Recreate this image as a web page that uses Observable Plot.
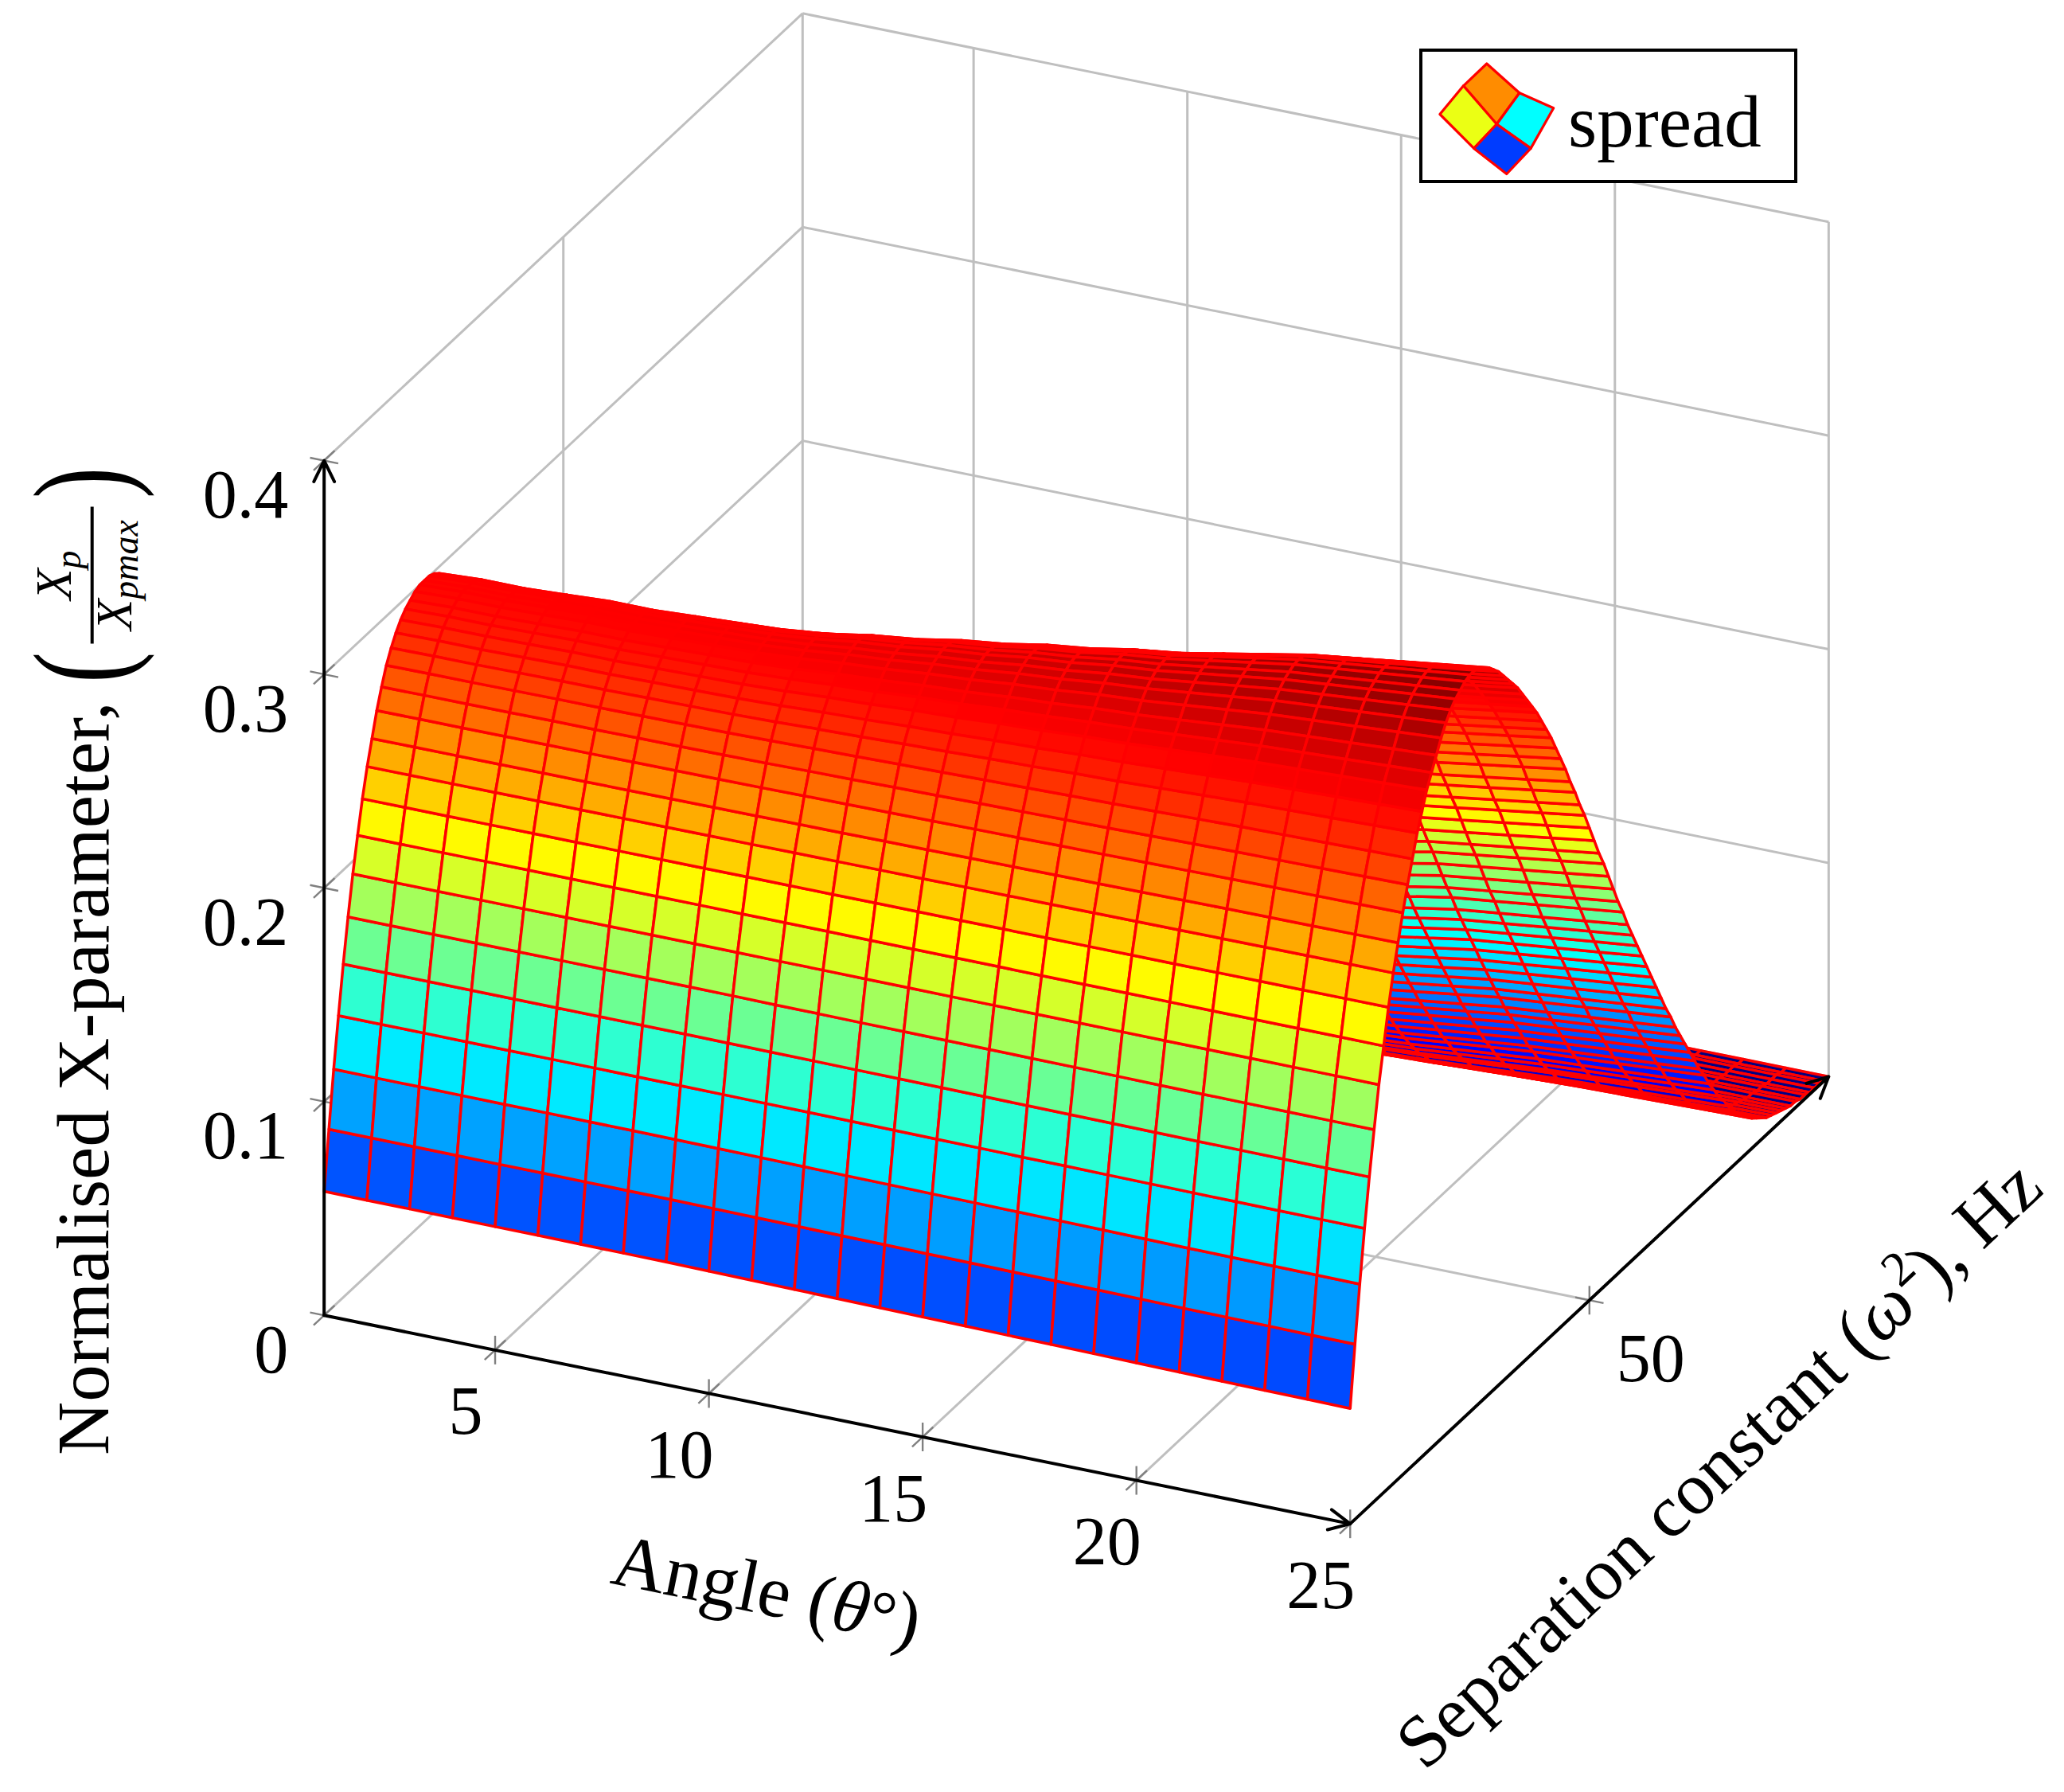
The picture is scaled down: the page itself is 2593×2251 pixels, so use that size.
<!DOCTYPE html>
<html>
<head>
<meta charset="utf-8">
<script src="https://cdn.jsdelivr.net/npm/d3@7"></script>
<script src="https://cdn.jsdelivr.net/npm/@observablehq/plot@0.6"></script>
<style>
  html, body { margin: 0; padding: 0; background: #fff; overflow: hidden; }
  #wrap { position: relative; width: 2593px; height: 2251px; }
  #legend { position: absolute; left: 1783px; top: 61px; width: 475px; height: 169px; box-sizing: border-box; border: 4px solid #000; background: #fff; }
  #legend svg { position: absolute; left: -4px; top: -4px; overflow: visible; }
</style>
</head>
<body>
<div id="wrap"></div>
<script>
// ---------------- data ----------------
const angles = [1,2,3,4,5,6,7,8,9,10,11,12,13,14,15,16,17,18,19,20,21,22,23,24,25];
const omega2 = [0,1,2,3,4,5,6,7,8,9,10,11,12,13,14,15,16,17,18,19,20,21,22,23,24,25,26,27,28,29,30,
  31,32,33,34,35,36,37,38,39,40,41,42,43,44,45,46,47,48,49,50,51,52,53,54,55,56,57,58,59,60,
  61,62,63,64,65,66,67,68,69,70,71,72,73,74,75,76,77,78,79,80,81,82,83,84,85,86,87,88,89,90,
  91,92,93,94,95,96,97,98,99,100];
// height of the ridge top for each angle
const ridgePeak = [0.300,0.301,0.301,0.302,0.303,0.303,0.304,0.305,0.306,0.308,0.311,0.313,0.316,
  0.318,0.321,0.323,0.326,0.328,0.331,0.334,0.337,0.339,0.341,0.343,0.345];
// profile along the separation constant at the smallest angle (theta = 1)
const spreadAtAngle1 = [
  0.058,0.085,0.111,0.134,0.156,0.176,0.194,0.210,0.225,0.238,
  0.249,0.260,0.269,0.277,0.283,0.288,0.292,0.295,0.297,0.299,
  0.300,0.300,0.300,0.299,0.297,0.294,0.291,0.287,0.284,0.280,
  0.277,0.272,0.268,0.264,0.259,0.254,0.249,0.244,0.238,0.231,
  0.225,0.218,0.212,0.205,0.199,0.192,0.185,0.178,0.172,0.165,
  0.158,0.151,0.145,0.138,0.132,0.126,0.120,0.114,0.108,0.102,
  0.096,0.090,0.084,0.078,0.073,0.068,0.063,0.057,0.052,0.048,
  0.043,0.038,0.034,0.030,0.026,0.023,0.020,0.017,0.015,0.012,
  0.010,0.009,0.007,0.006,0.005,0.004,0.003,0.003,0.002,0.002,
  0.002,0.001,0.001,0.001,0.001,0.000,0.000,0.000,0.000,0.000,0.000];
// profile along the separation constant at the largest angle (theta = 25)
const spreadAtAngle25 = [
  0.054,0.082,0.108,0.132,0.154,0.174,0.193,0.209,0.225,0.239,
  0.251,0.263,0.274,0.284,0.294,0.302,0.310,0.316,0.322,0.328,
  0.333,0.337,0.340,0.342,0.344,0.345,0.345,0.344,0.342,0.340,
  0.337,0.334,0.330,0.326,0.322,0.318,0.313,0.308,0.303,0.298,
  0.292,0.286,0.280,0.273,0.266,0.259,0.251,0.244,0.236,0.229,
  0.221,0.213,0.205,0.198,0.190,0.182,0.174,0.167,0.159,0.152,
  0.145,0.138,0.131,0.124,0.117,0.110,0.103,0.097,0.090,0.084,
  0.078,0.072,0.066,0.060,0.055,0.049,0.044,0.039,0.035,0.030,
  0.026,0.023,0.020,0.017,0.014,0.012,0.010,0.008,0.007,0.006,
  0.005,0.004,0.003,0.003,0.002,0.002,0.001,0.001,0.001,0.000,0.000];
const angleTicks = [5, 10, 15, 20, 25];
const omegaTicks = [50];
const omegaGrid = [50, 100];
const zTicks = [0, 0.1, 0.2, 0.3, 0.4];
const zTickLabels = ["0", "0.1", "0.2", "0.3", "0.4"];
const legendLabel = "spread";

// ---------------- 3D view (pgfplots default view {25}{30}) ----------------
const FONT = '"Liberation Serif", "Times New Roman", serif';
const AZ = 25 * Math.PI / 180, EL = 30 * Math.PI / 180;
const xLim = [1, 25], yLim = [0, 100], zLim = [0, 0.4];
const nrm = (t, w, z) => [(t - xLim[0]) / (xLim[1] - xLim[0]), (w - yLim[0]) / (yLim[1] - yLim[0]), (z - zLim[0]) / (zLim[1] - zLim[0])];
const proj = (t, w, z) => {
  const [a, b, c] = nrm(t, w, z);
  return {u: Math.cos(AZ) * a + Math.sin(AZ) * b,
          v: -Math.sin(AZ) * Math.sin(EL) * a + Math.cos(AZ) * Math.sin(EL) * b + Math.cos(EL) * c};
};
const depth = (t, w, z) => {
  const [a, b, c] = nrm(t, w, z);
  return Math.sin(AZ) * Math.cos(EL) * a - Math.cos(AZ) * Math.cos(EL) * b + Math.sin(EL) * c;
};
const seg = (A, B) => { const p = proj(...A), q = proj(...B); return {x1: p.u, y1: p.v, x2: q.u, y2: q.v}; };

// ---------------- surface ----------------
const p0 = ridgePeak[0], p1 = ridgePeak[ridgePeak.length - 1];
const Z = angles.map((t, i) => {
  const f = (ridgePeak[i] - p0) / (p1 - p0);
  return omega2.map((w, j) => spreadAtAngle1[j] + f * (spreadAtAngle25[j] - spreadAtAngle1[j]));
});
const quads = [];
for (let i = 0; i < angles.length - 1; i++) {
  for (let j = 0; j < omega2.length - 1; j++) {
    const cs = [[i, j], [i + 1, j], [i + 1, j + 1], [i, j + 1]];
    const meta = d3.mean(cs, ([a, b]) => Z[a][b]);
    const d = depth((angles[i] + angles[i + 1]) / 2, (omega2[j] + omega2[j + 1]) / 2, meta);
    quads.push({cs, meta, d});
  }
}
quads.sort((a, b) => a.d - b.d);
const surfRows = [];
quads.forEach((q, k) => q.cs.forEach(([a, b]) => {
  const p = proj(angles[a], omega2[b], Z[a][b]);
  surfRows.push({k, u: p.u, v: p.v, meta: q.meta});
}));
const zAll = Z.flat();
const zmin = d3.min(zAll), zmax = d3.max(zAll);
const jetStops = [0, 1 / 8, 3 / 8, 5 / 8, 7 / 8, 1];
const jetColors = ["#000080", "#0000ff", "#00ffff", "#ffff00", "#ff0000", "#800000"];

// ---------------- grid, ticks, axes ----------------
const gridSegs = [];
zTicks.forEach(z => gridSegs.push(seg([xLim[0], yLim[0], z], [xLim[0], yLim[1], z])));     // left wall
omegaGrid.forEach(w => gridSegs.push(seg([xLim[0], w, zLim[0]], [xLim[0], w, zLim[1]])));
zTicks.forEach(z => gridSegs.push(seg([xLim[0], yLim[1], z], [xLim[1], yLim[1], z])));     // back wall
angleTicks.forEach(t => gridSegs.push(seg([t, yLim[1], zLim[0]], [t, yLim[1], zLim[1]])));
angleTicks.forEach(t => gridSegs.push(seg([t, yLim[0], zLim[0]], [t, yLim[1], zLim[0]]))); // floor
omegaGrid.forEach(w => gridSegs.push(seg([xLim[0], w, zLim[0]], [xLim[1], w, zLim[0]])));

const dT = 0.33, dW = 2.2, dZ = 0.0067;
const tickSegs = [];
zTicks.forEach(z => {
  tickSegs.push(seg([xLim[0] - dT, yLim[0], z], [xLim[0] + dT, yLim[0], z]));
  tickSegs.push(seg([xLim[0], yLim[0] - dW, z], [xLim[0], yLim[0] + dW, z]));
});
angleTicks.forEach(t => {
  tickSegs.push(seg([t, yLim[0] - dW, zLim[0]], [t, yLim[0] + dW, zLim[0]]));
  tickSegs.push(seg([t, yLim[0], zLim[0] - dZ], [t, yLim[0], zLim[0] + dZ]));
});
omegaTicks.forEach(w => {
  tickSegs.push(seg([xLim[1] - dT, w, zLim[0]], [xLim[1] + dT, w, zLim[0]]));
  tickSegs.push(seg([xLim[1], w, zLim[0] - dZ], [xLim[1], w, zLim[0] + dZ]));
});
const axisArrows = [
  seg([xLim[0], yLim[0], zLim[0]], [xLim[0], yLim[0], zLim[1]]),
  seg([xLim[0], yLim[0], zLim[0]], [xLim[1], yLim[0], zLim[0]]),
  seg([xLim[1], yLim[0], zLim[0]], [xLim[1], yLim[1], zLim[0]])
];
const zLabRows = zTicks.map((z, i) => ({...proj(xLim[0], yLim[0], z), label: zTickLabels[i]}));
const xLabRows = angleTicks.map(t => ({...proj(t, yLim[0], zLim[0]), label: String(t)}));
const yLabRows = omegaTicks.map(w => ({...proj(xLim[1], w, zLim[0]), label: String(w)}));

const plot = Plot.plot({
  width: 2593, height: 2251, margin: 0,
  x: {type: "linear", domain: [0, 1], range: [406.7, 406.7 + 1422.3], axis: null},
  y: {type: "linear", domain: [0, 1], range: [1651.7, 1651.7 - 1239.7], axis: null},
  color: {type: "linear", domain: jetStops.map(s => zmin + s * (zmax - zmin)), range: jetColors, interpolate: "rgb", clamp: true},
  style: {fontFamily: FONT, background: "#fff"},
  marks: [
    Plot.link(gridSegs, {x1: "x1", y1: "y1", x2: "x2", y2: "y2", stroke: "#bfbfbf", strokeWidth: 3}),
    Plot.link(tickSegs, {x1: "x1", y1: "y1", x2: "x2", y2: "y2", stroke: "#808080", strokeWidth: 2.4}),
    Plot.line(surfRows, {x: "u", y: "v", z: "k", fill: "meta", stroke: "#ff0000", strokeWidth: 3.5,
      curve: "linear-closed", strokeLinejoin: "round"}),
    Plot.arrow(axisArrows, {x1: "x1", y1: "y1", x2: "x2", y2: "y2", stroke: "#000", strokeWidth: 4,
      headLength: 11, headAngle: 52}),
    Plot.text(zLabRows, {x: "u", y: "v", text: "label", textAnchor: "end", dx: -45, dy: 44, fontSize: 86, fontFamily: FONT}),
    Plot.text(xLabRows, {x: "u", y: "v", text: "label", dx: -37, dy: 78, fontSize: 86, fontFamily: FONT}),
    Plot.text(yLabRows, {x: "u", y: "v", text: "label", dx: 77, dy: 74, fontSize: 86, fontFamily: FONT})
  ]
});
document.getElementById("wrap").appendChild(plot);

// ---------------- axis labels (positioned from the plot's scales) ----------------
const sx = plot.scale("x"), sy = plot.scale("y");
const px = p => [sx.apply(p.u), sy.apply(p.v)];
const O = px(proj(xLim[0], yLim[0], zLim[0]));
const XE = px(proj(xLim[1], yLim[0], zLim[0]));
const YE = px(proj(xLim[1], yLim[1], zLim[0]));
const angX = Math.atan2(XE[1] - O[1], XE[0] - O[0]) * 180 / Math.PI;
const angY = Math.atan2(YE[1] - XE[1], YE[0] - XE[0]) * 180 / Math.PI;
const svg = d3.select(plot);
const lab = svg.append("g").attr("font-family", FONT).attr("fill", "#000").attr("text-anchor", "start");

// z label
lab.append("text").attr("text-anchor", "start").attr("transform", `translate(${O[0] - 270.7},${O[1] + 176.3}) rotate(-90)`)
  .attr("font-size", 93).text("Normalised X-parameter,");
const fr = lab.append("g").attr("transform", `translate(${O[0] - 291},${O[1] - 929.2}) rotate(-90)`);
fr.append("line").attr("x1", -86).attr("x2", 86).attr("y1", 0).attr("y2", 0).attr("stroke", "#000").attr("stroke-width", 4);
const num = fr.append("text").attr("x", 0).attr("y", -27).attr("text-anchor", "middle").attr("font-size", 64).attr("font-style", "italic");
num.append("tspan").text("X");
num.append("tspan").attr("font-size", 46).attr("dy", 12).text("p");
const den = fr.append("text").attr("x", 0).attr("y", 49).attr("text-anchor", "middle").attr("font-size", 64).attr("font-style", "italic");
den.append("tspan").text("X");
den.append("tspan").attr("font-size", 46).attr("dy", 8).text("pmax");
fr.append("text").attr("transform", "translate(-116,42) scale(0.7,1)").attr("text-anchor", "middle").attr("font-size", 168).text("(");
fr.append("text").attr("transform", "translate(116,42) scale(0.7,1)").attr("text-anchor", "middle").attr("font-size", 168).text(")");

// x label
const al = lab.append("text").attr("text-anchor", "start").attr("transform", `translate(${O[0] + 358.3},${O[1] + 336.6}) rotate(${angX})`).attr("font-size", 93);
al.append("tspan").text("Angle (");
al.append("tspan").attr("font-style", "italic").text("θ");
al.append("tspan").attr("font-size", 86).text("°");
al.append("tspan").text(")");

// y label
const yl = lab.append("text").attr("text-anchor", "start").attr("transform", `translate(${O[0] + 1383.3},${O[1] + 574.3}) rotate(${angY})`).attr("font-size", 93);
yl.append("tspan").text("Separation constant (");
yl.append("tspan").attr("font-style", "italic").text("ω");
yl.append("tspan").attr("font-size", 62).attr("dy", -36).text("2");
yl.append("tspan").attr("dy", 36).text("), Hz");

// ---------------- legend ----------------
const cscale = plot.scale("color");
const lv = t => cscale.apply(zmin + t * (zmax - zmin));
const legend = d3.select("#wrap").append("div").attr("id", "legend");
const ls = legend.append("svg").attr("width", 475).attr("height", 169);
const P = {top: [84.8, 19], left: [25.9, 82.5], bottom: [109.8, 157.5], right: [168.7, 74.7], c: [97.3, 95],
  tl: [55.5, 46.8], tr: [125.9, 55.8], bl: [68.7, 125.4], br: [140.1, 125.4]};
const cells = [
  {pts: [P.top, P.tr, P.c, P.tl], t: 0.7375},
  {pts: [P.tl, P.c, P.bl, P.left], t: 0.605},
  {pts: [P.tr, P.right, P.br, P.c], t: 0.375},
  {pts: [P.c, P.br, P.bottom, P.bl], t: 0.184}
];
ls.selectAll("polygon").data(cells).join("polygon")
  .attr("points", d => d.pts.map(p => p.join(",")).join(" "))
  .attr("fill", d => lv(d.t)).attr("stroke", "#ff0000").attr("stroke-width", 3.2).attr("stroke-linejoin", "round");
ls.append("text").attr("x", 187).attr("y", 123).attr("font-family", FONT).attr("font-size", 93).text(legendLabel);
</script>
</body>
</html>
